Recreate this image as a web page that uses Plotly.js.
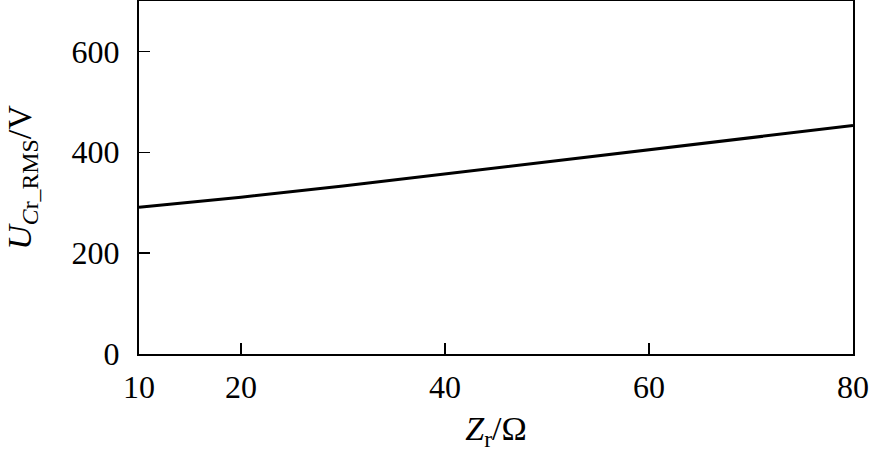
<!DOCTYPE html>
<html>
<head>
<meta charset="utf-8">
<script src="https://cdn.plot.ly/plotly-3.0.1.min.js"></script>
<style>
  html, body { margin: 0; padding: 0; background: #fff; }
  #chart { width: 869px; height: 453px; }
</style>
</head>
<body>
<div id="chart"></div>
<script>
// Zr in ohm, U_Cr_RMS in volt
const zr = [10, 20, 30, 40, 50, 60, 70, 80];
const uCrRms = [291, 311, 333, 357, 380, 404, 428, 453];

const xTicks = [10, 20, 40, 60, 80];
const yTicks = [0, 200, 400, 600];

const serif = '"Liberation Serif", "Times New Roman", serif';

const traces = [{
    type: 'scatter',
    mode: 'lines',
    x: zr,
    y: uCrRms,
    line: { color: '#000000', width: 3 },
    showlegend: false
}];

const layout = {
    width: 869,
    height: 453,
    margin: { l: 139, r: 16, t: 1, b: 99 },
    paper_bgcolor: '#ffffff',
    plot_bgcolor: '#ffffff',
    xaxis: {
        range: [10, 80],
        tickvals: xTicks,
        ticktext: xTicks.map(String),
        ticks: 'inside',
        ticklen: 11,
        tickwidth: 1.5,
        tickcolor: '#000',
        ticklabelstandoff: 4,
        showline: true,
        mirror: true,
        linecolor: '#000',
        linewidth: 2,
        showgrid: false,
        zeroline: false,
        tickfont: { family: serif, size: 32, color: '#000' },
        title: {
            text: '<i>Z</i><sub>r</sub>/Ω',
            font: { family: serif, size: 34, color: '#000' },
            standoff: 12
        }
    },
    yaxis: {
        range: [0, 700],
        tickvals: yTicks,
        ticktext: yTicks.map(String),
        ticks: 'inside',
        ticklen: 11,
        tickwidth: 1.5,
        tickcolor: '#000',
        ticklabelstandoff: 11,
        showline: true,
        mirror: true,
        linecolor: '#000',
        linewidth: 2,
        showgrid: false,
        zeroline: false,
        tickfont: { family: serif, size: 32, color: '#000' },
        title: {
            text: '<i>U</i><sub><i>C</i>r_RMS</sub>/V',
            font: { family: serif, size: 34, color: '#000' },
            standoff: 30
        }
    }
};

Plotly.newPlot('chart', traces, layout, { displayModeBar: false, staticPlot: true });
</script>
</body>
</html>
